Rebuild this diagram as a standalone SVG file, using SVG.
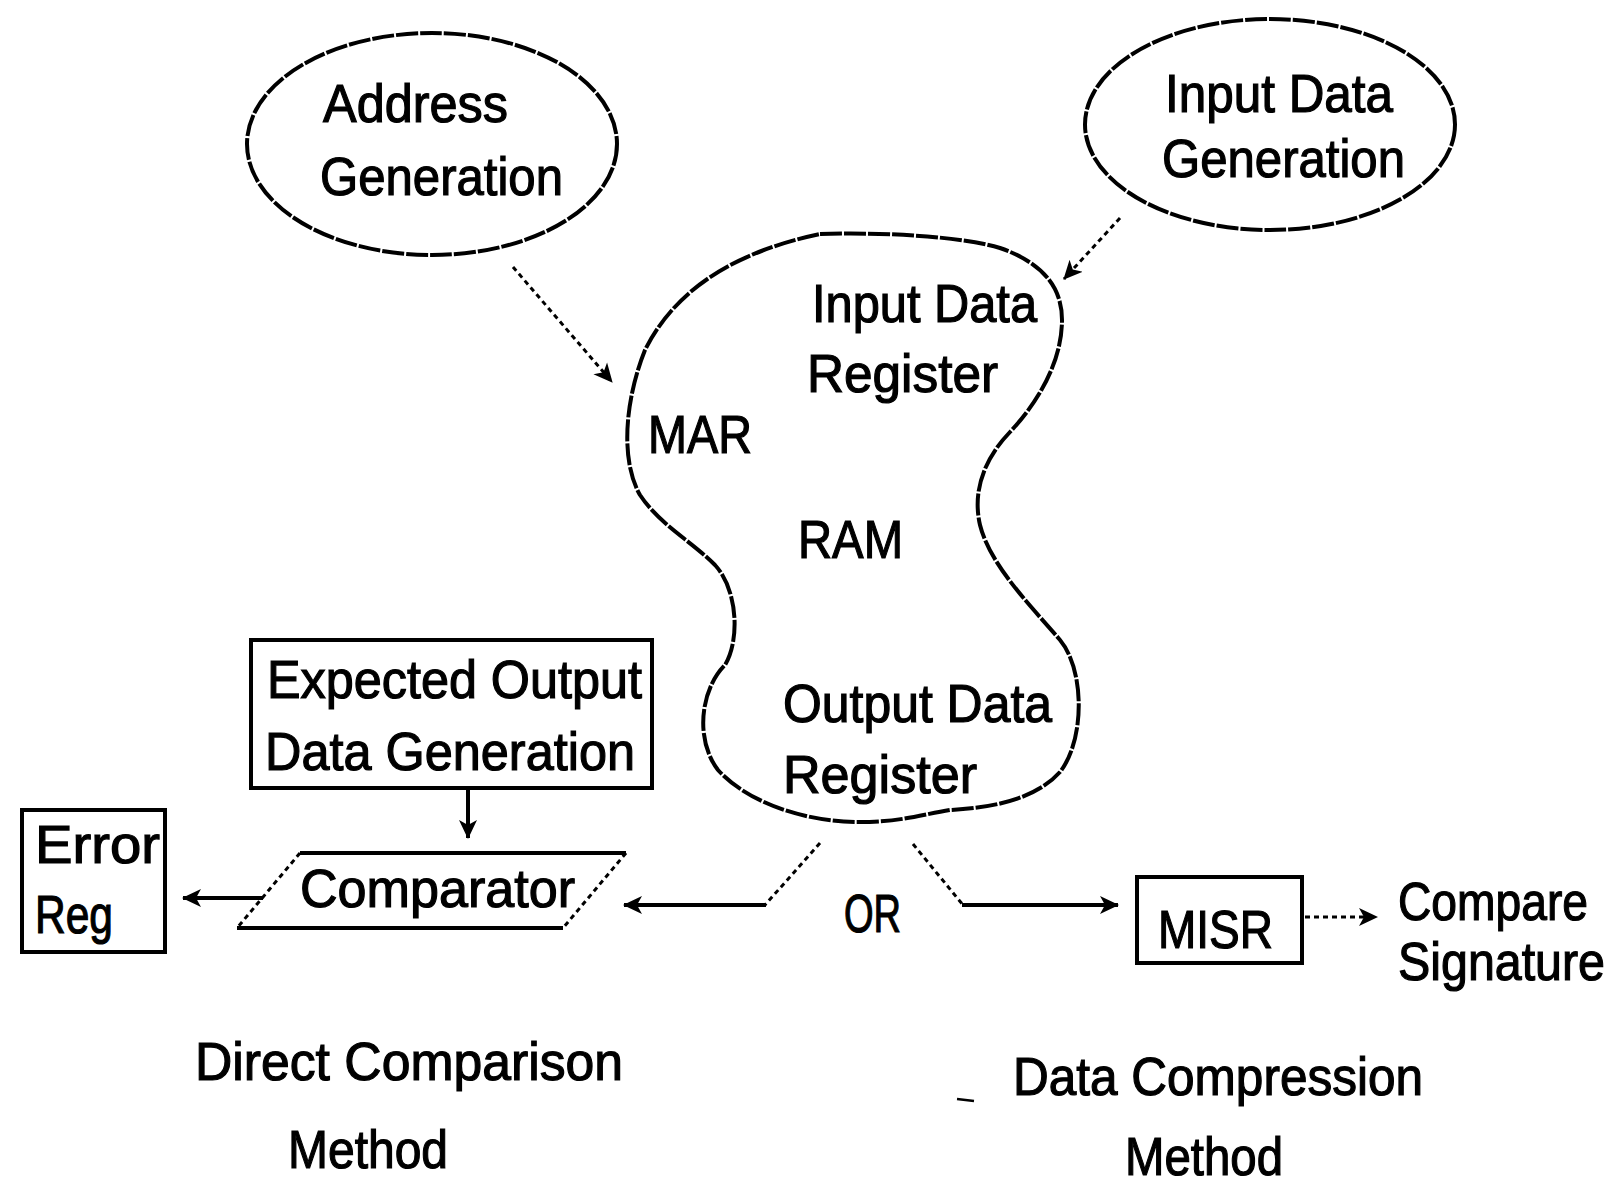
<svg xmlns="http://www.w3.org/2000/svg" width="1624" height="1186" viewBox="0 0 1624 1186">
  <style>
    .bg { fill: #ffffff; }
    .outline { fill: none; stroke: #000; stroke-width: 4; stroke-linejoin: round; stroke-dasharray: 22 2; }
    .box { fill: none; stroke: #000; stroke-width: 4; }
    .solid { fill: none; stroke: #000; stroke-width: 4; }
    .dotted { fill: none; stroke: #000; stroke-width: 3; stroke-dasharray: 5 4; }
    text { font-family: "Liberation Sans", Arial, sans-serif; font-size: 54px; fill: #000; stroke: #000; stroke-width: 1.2; }
  </style>
  <defs>
    <marker id="head" viewBox="0 0 20 20" refX="18" refY="10" markerWidth="20" markerHeight="20" markerUnits="userSpaceOnUse" orient="auto">
      <path d="M0,1 L19,10 L0,19 L5,10 Z" fill="#000"/>
    </marker>
  </defs>

  <rect class="bg" x="0" y="0" width="1624" height="1186"/>

  <!-- Address generation -->
  <g id="address-generation">
    <ellipse class="outline" cx="432" cy="144" rx="185" ry="111"/>
    <text x="323" y="122" textLength="185" lengthAdjust="spacingAndGlyphs">Address</text>
    <text x="320" y="195" textLength="243" lengthAdjust="spacingAndGlyphs">Generation</text>
  </g>

  <!-- Input data generation -->
  <g id="input-data-generation">
    <ellipse class="outline" cx="1270" cy="124.5" rx="185" ry="105.5"/>
    <text x="1165" y="112" textLength="228" lengthAdjust="spacingAndGlyphs">Input Data</text>
    <text x="1162" y="177" textLength="243" lengthAdjust="spacingAndGlyphs">Generation</text>
  </g>

  <!-- RAM with its registers -->
  <g id="ram">
    <path class="outline" d="M 820 234 C 880 232, 960 236, 1000 248 C 1040 262, 1062 285, 1062 320 C 1062 360, 1040 400, 1010 432 C 985 458, 972 490, 980 525 C 990 565, 1030 605, 1060 640 C 1085 670, 1085 740, 1060 772 C 1035 800, 990 808, 950 810 C 920 815, 900 822, 860 822 C 800 822, 745 800, 718 770 C 695 740, 700 690, 725 665 C 740 640, 738 590, 715 565 C 690 540, 660 525, 640 495 C 620 460, 625 400, 645 350 C 670 300, 720 255, 820 234 Z"/>
    <text x="812" y="322" textLength="225" lengthAdjust="spacingAndGlyphs">Input Data</text>
    <text x="807" y="392" textLength="191" lengthAdjust="spacingAndGlyphs">Register</text>
    <text x="648" y="453" font-size="50" textLength="104" lengthAdjust="spacingAndGlyphs">MAR</text>
    <text x="798" y="558" font-size="50" textLength="105" lengthAdjust="spacingAndGlyphs">RAM</text>
    <text x="783" y="722" textLength="269" lengthAdjust="spacingAndGlyphs">Output Data</text>
    <text x="783" y="793" textLength="194" lengthAdjust="spacingAndGlyphs">Register</text>
  </g>

  <!-- Expected output data generation -->
  <g id="expected-output">
    <rect class="box" x="251" y="640" width="401" height="148"/>
    <text x="267" y="698" font-size="50" textLength="375" lengthAdjust="spacingAndGlyphs">Expected Output</text>
    <text x="265" y="770" textLength="370" lengthAdjust="spacingAndGlyphs">Data Generation</text>
  </g>

  <!-- Comparator -->
  <g id="comparator">
    <line class="solid" x1="300" y1="853" x2="626" y2="853"/>
    <line class="solid" x1="237" y1="928" x2="563" y2="928"/>
    <line class="dotted" x1="300" y1="853" x2="237" y2="928"/>
    <line class="dotted" x1="626" y1="853" x2="563" y2="928"/>
    <text x="300" y="907" textLength="275" lengthAdjust="spacingAndGlyphs">Comparator</text>
  </g>

  <!-- Error register -->
  <g id="error-reg">
    <rect class="box" x="22" y="810" width="143" height="142"/>
    <text x="35" y="863" font-size="46" textLength="125" lengthAdjust="spacingAndGlyphs">Error</text>
    <text x="35" y="933" font-size="50" textLength="78" lengthAdjust="spacingAndGlyphs">Reg</text>
  </g>

  <!-- MISR -->
  <g id="misr">
    <rect class="box" x="1137" y="877" width="165" height="86"/>
    <text x="1158" y="948" font-size="58" textLength="115" lengthAdjust="spacingAndGlyphs">MISR</text>
  </g>

  <!-- Signature comparison -->
  <g id="compare-signature">
    <text x="1398" y="920" font-size="53" textLength="190" lengthAdjust="spacingAndGlyphs">Compare</text>
    <text x="1605" y="980" font-size="50" text-anchor="end" textLength="207" lengthAdjust="spacingAndGlyphs">Signature</text>
  </g>

  <!-- OR between the two methods -->
  <g id="or-label">
    <text x="844" y="932" font-size="52" textLength="57" lengthAdjust="spacingAndGlyphs">OR</text>
  </g>

  <!-- Method captions -->
  <g id="direct-comparison-method">
    <text x="195" y="1080" font-size="53" textLength="428" lengthAdjust="spacingAndGlyphs">Direct Comparison</text>
    <text x="288" y="1168" font-size="53" textLength="160" lengthAdjust="spacingAndGlyphs">Method</text>
  </g>
  <g id="data-compression-method">
    <line x1="957" y1="1099" x2="974" y2="1101" stroke="#000" stroke-width="2.5"/>
    <text x="1013" y="1095" font-size="53" textLength="410" lengthAdjust="spacingAndGlyphs">Data Compression</text>
    <text x="1125" y="1175" font-size="52" textLength="158" lengthAdjust="spacingAndGlyphs">Method</text>
  </g>

  <!-- Connectors -->
  <g id="connectors">
    <line class="dotted" x1="513" y1="267" x2="612" y2="382" marker-end="url(#head)"/>
    <line class="dotted" x1="1120" y1="218" x2="1064" y2="279" marker-end="url(#head)"/>
    <line class="solid" x1="468" y1="788" x2="468" y2="838" marker-end="url(#head)"/>
    <line class="dotted" x1="820" y1="843" x2="765" y2="905"/>
    <line class="solid" x1="766" y1="905" x2="624" y2="905" marker-end="url(#head)"/>
    <line class="solid" x1="263" y1="898" x2="183" y2="898" marker-end="url(#head)"/>
    <line class="dotted" x1="913" y1="844" x2="963" y2="905"/>
    <line class="solid" x1="962" y1="905" x2="1118" y2="905" marker-end="url(#head)"/>
    <line class="dotted" x1="1305" y1="917" x2="1377" y2="917" marker-end="url(#head)"/>
  </g>
</svg>
